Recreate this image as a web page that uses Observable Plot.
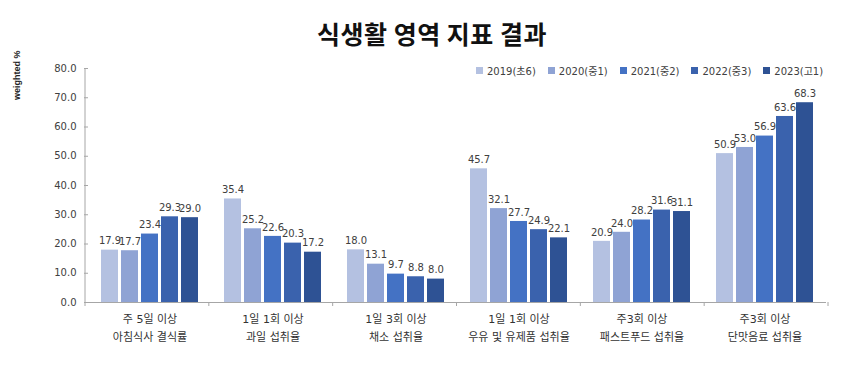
<!DOCTYPE html>
<html>
<head>
<meta charset="utf-8">
<script src="https://cdn.jsdelivr.net/npm/d3@7"></script>
<script src="https://cdn.jsdelivr.net/npm/@observablehq/plot@0.6"></script>
<style>
  html, body { margin: 0; padding: 0; background: #fff; }
  #wrap { position: relative; width: 864px; height: 384px; overflow: hidden; font-family: "DejaVu Sans", "Noto Sans CJK KR", sans-serif; }
  #title { position: absolute; left: 0; width: 864px; top: 16px; text-align: center; font-family: "Noto Sans CJK KR", sans-serif; font-weight: 700; font-size: 25px; letter-spacing: 0.5px; color: #111; line-height: 34px; }
  #legend { position: absolute; top: 63px; left: 476px; display: flex; gap: 0; font-size: 10px; color: #404040; }
  #legend .item { display: flex; align-items: center; margin-right: 12px; white-space: nowrap; }
  #legend .sw { width: 7px; height: 7px; margin-right: 4px; display: inline-block; }
  #ylab { position: absolute; left: 12px; top: 100px; transform-origin: 0 0; transform: rotate(-90deg); font-family: "Liberation Sans", sans-serif; font-weight: 700; font-size: 9px; color: #222; white-space: nowrap; }
  #chart { position: absolute; left: 0; top: 0; }
</style>
</head>
<body>
<div id="wrap">
  <div id="chart"></div>
  <div id="title">식생활 영역 지표 결과</div>
  <div id="ylab">weighted %</div>
  <div id="legend"></div>
</div>
<script>
const categories = [
  "주 5일 이상\n아침식사 결식률",
  "1일 1회 이상\n과일 섭취율",
  "1일 3회 이상\n채소 섭취율",
  "1일 1회 이상\n우유 및 유제품 섭취율",
  "주3회 이상\n패스트푸드 섭취율",
  "주3회 이상\n단맛음료 섭취율"
];
const years = ["2019(초6)", "2020(중1)", "2021(중2)", "2022(중3)", "2023(고1)"];
const v2019 = [17.9, 35.4, 18.0, 45.7, 20.9, 50.9];
const v2020 = [17.7, 25.2, 13.1, 32.1, 24.0, 53.0];
const v2021 = [23.4, 22.6, 9.7, 27.7, 28.2, 56.9];
const v2022 = [29.3, 20.3, 8.8, 24.9, 31.6, 63.6];
const v2023 = [29.0, 17.2, 8.0, 22.1, 31.1, 68.3];
const yTicks = [0, 10, 20, 30, 40, 50, 60, 70, 80];
const colors = ["#b4c1e1", "#8fa3d4", "#4472c4", "#3a62ad", "#2e5294"];

const series = [v2019, v2020, v2021, v2022, v2023];
const data = [];
categories.forEach((c, i) => {
  years.forEach((y, j) => data.push({cat: c, year: y, value: series[j][i]}));
});

const plot = Plot.plot({
  width: 864,
  height: 384,
  marginLeft: 85,
  marginRight: 36,
  marginTop: 68,
  marginBottom: 82,
  style: {fontFamily: "DejaVu Sans, Noto Sans CJK KR, sans-serif", fontSize: "10px", color: "#404040", background: "transparent"},
  fx: {domain: categories, paddingInner: 0, paddingOuter: 0, label: null},
  x: {domain: years, paddingInner: 0.17, paddingOuter: 0.6, axis: null},
  y: {domain: [0, 80], label: null},
  color: {domain: years, range: colors},
  marks: [
    Plot.axisY({ticks: yTicks, tickFormat: d => d.toFixed(1), tickSize: 4, tickPadding: 8, stroke: "#a6a6a6", fontSize: 10, fill: "#404040", label: null}),
    Plot.axisFx({anchor: "bottom", tickSize: 0, tickPadding: 8, fontSize: 11, lineHeight: 1.6, fill: "#333", label: null}),
    Plot.barY(data, {fx: "cat", x: "year", y: "value", fill: "year"}),
    Plot.text(data, {fx: "cat", x: "year", y: "value", text: d => d.value.toFixed(1), dy: -9, fill: "#404040", fontSize: 10}),
    Plot.ruleY([0], {stroke: "#a6a6a6"})
  ]
});
document.getElementById("chart").appendChild(plot);

// y-axis line and group separators from the fx scale
const svg = d3.select(plot);
const fx = plot.scale("fx");
const yS = plot.scale("y");
const [r0, r1] = fx.range;
const bw = (r1 - r0) / categories.length;
const yBase = yS.range[0];
const yTop = yS.range[1];
svg.append("line").attr("x1", r0).attr("x2", r0).attr("y1", yTop).attr("y2", yBase).attr("stroke", "#a6a6a6");
for (let i = 0; i <= categories.length; i++) {
  const x = r0 + i * bw;
  svg.append("line").attr("x1", x).attr("x2", x).attr("y1", yBase).attr("y2", yBase + 4).attr("stroke", "#a6a6a6");
}

// legend
const lg = document.getElementById("legend");
years.forEach((y, i) => {
  const it = document.createElement("div");
  it.className = "item";
  it.innerHTML = `<span class="sw" style="background:${colors[i]}"></span>${y}`;
  lg.appendChild(it);
});
</script>
</body>
</html>
